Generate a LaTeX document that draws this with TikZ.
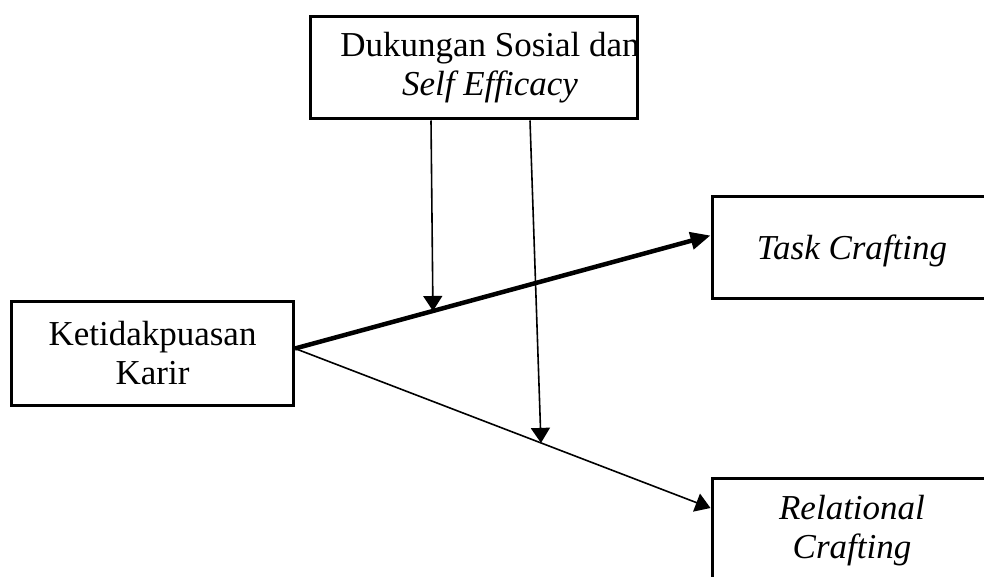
\documentclass[tikz,border=0pt]{standalone}
\usepackage{fontspec}
\setmainfont{Liberation Serif}
\usetikzlibrary{arrows.meta,calc}

\begin{document}
\begin{tikzpicture}[x=1pt, y=-1pt,
    txt/.style = {align=center, font=\fontsize{35pt}{39pt}\selectfont},
    main/.style = {draw, line width=3pt, inner sep=0pt, txt},
    arr/.style = {line width=1.6pt, -{Triangle[length=15pt,width=19pt]}}]
                  \useasboundingbox (0,0) rectangle (984,577);
                  \node[main, minimum width=327pt, minimum height=102pt,
                        label={[txt, xshift=16pt]center:Dukungan Sosial dan\\\textit{Self Efficacy}}] (1) at (474,68) {};
                  \node[main, minimum width=282pt, minimum height=104pt] (2) at (152.5,353.5) {Ketidakpuasan\\Karir};
                  \node[main, minimum width=280pt, minimum height=102pt, text depth=0pt] (3) at (852,247.5) {\textit{Task Crafting}};
                  \node[main, minimum width=280pt, minimum height=105pt] (4) at (852,531) {\textit{Relational}\\\textit{Crafting}};
                  \coordinate (5) at ($([yshift=5pt]2.east)!0.332!([yshift=12pt]3.west)$);
                  \coordinate (6) at ($([yshift=5pt]2.east)!0.592!([yshift=-31pt]4.north west)$);
                  \draw[line width=4.5pt, -{Triangle[length=20pt,width=17pt]}] ([yshift=5pt]2.east) to ([yshift=12pt]3.west);
                  \draw[arr] ([yshift=5pt]2.east) to ([yshift=-31pt]4.north west);
                  \draw[arr] ([xshift=122pt]1.south west) to (5);
                  \draw[arr] ([xshift=221pt]1.south west) to (6);
              \end{tikzpicture}
\end{document}
